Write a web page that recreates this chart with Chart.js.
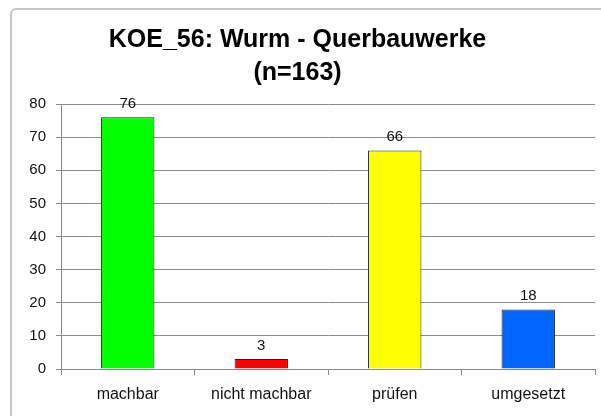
<!DOCTYPE html>
<html>
<head>
<meta charset="utf-8">
<script src="https://cdn.jsdelivr.net/npm/chart.js@4/dist/chart.umd.min.js"></script>
<style>
  html, body { margin: 0; padding: 0; background: #fff; width: 601px; height: 416px; overflow: hidden; }
  #frame { position: absolute; left: 10px; top: 8px; width: 640px; height: 460px; border: 2px solid #c4c4c4; border-radius: 6px; box-sizing: border-box; }
  #wrap { position: absolute; left: 0; top: 0; width: 601px; height: 416px; }
</style>
</head>
<body>
<div id="frame"></div>
<div id="wrap"><canvas id="c" width="601" height="416"></canvas></div>
<script>
const titleLines = ["KOE_56: Wurm - Querbauwerke", "(n=163)"];
const categories = ["machbar", "nicht machbar", "prüfen", "umgesetzt"];
const values = [76, 3, 66, 18];
const barColors = ["#00ff00", "#ff0000", "#ffff00", "#0066ff"];
const yTicks = [0, 10, 20, 30, 40, 50, 60, 70, 80];

const FONT = "'Liberation Sans', Arial, sans-serif";

const valueLabels = {
  id: 'valueLabels',
  afterDatasetsDraw(chart) {
    const ctx = chart.ctx;
    const meta = chart.getDatasetMeta(0);
    ctx.save();
    ctx.font = "15px " + FONT;
    ctx.fillStyle = "#111";
    ctx.textAlign = "center";
    ctx.textBaseline = "alphabetic";
    meta.data.forEach((bar, i) => {
      ctx.fillText(String(values[i]), bar.x, bar.y - 9);
    });
    ctx.restore();
  }
};

new Chart(document.getElementById('c'), {
  type: 'bar',
  data: {
    labels: categories,
    datasets: [{
      data: values,
      backgroundColor: barColors,
      borderColor: "#222",
      borderWidth: 1,
      categoryPercentage: 0.4,
      barPercentage: 1.0
    }]
  },
  options: {
    responsive: false,
    animation: false,
    layout: { padding: { left: 0, right: 6, top: 0, bottom: 0 } },
    plugins: {
      legend: { display: false },
      tooltip: { enabled: false },
      title: {
        display: true,
        text: titleLines,
        color: "#000",
        font: { family: FONT, size: 25, weight: 'bold', lineHeight: 1.32 },
        padding: { top: 24, bottom: 14 }
      }
    },
    scales: {
      x: {
        offset: true,
        grid: { offset: true, drawOnChartArea: false, drawTicks: true, tickLength: 6, color: "#888" },
        border: { color: "#888", width: 1 },
        ticks: { color: "#111", font: { family: FONT, size: 16 }, padding: 10 },
        afterFit(s) { s.height = 47; }
      },
      y: {
        min: 0, max: 80,
        afterBuildTicks(s) { s.ticks = yTicks.map(v => ({ value: v })); },
        grid: { color: "#8c8c8c", tickLength: 5, drawTicks: true },
        border: { color: "#888", width: 1 },
        ticks: { color: "#111", font: { family: FONT, size: 15 }, padding: 10 },
        afterFit(s) { s.width = 61; }
      }
    }
  },
  plugins: [valueLabels]
});
</script>
</body>
</html>
